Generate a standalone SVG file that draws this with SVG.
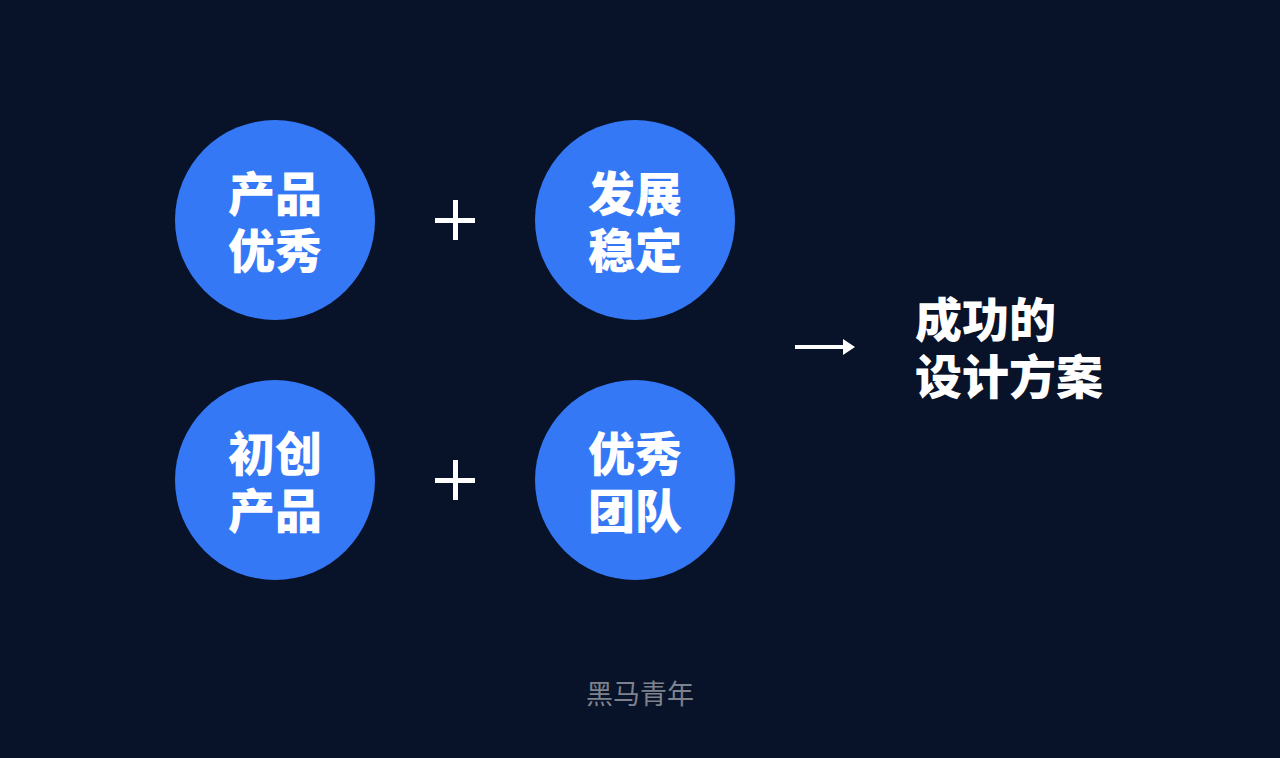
<svg xmlns="http://www.w3.org/2000/svg" width="1280" height="758" viewBox="0 0 1280 758">
<defs>
<style>
.c{fill:#3478f6}
.t{font-family:"Noto Sans CJK SC","Noto Sans",sans-serif;font-weight:900;font-size:47px;fill:#ffffff;text-anchor:middle}
.r{font-family:"Noto Sans CJK SC","Noto Sans",sans-serif;font-weight:900;font-size:47px;fill:#ffffff}
.f{font-family:"Noto Sans CJK SC","Noto Sans",sans-serif;font-size:27px;fill:#7d828c;text-anchor:middle}
.p{fill:#ffffff}
</style>
<marker id="ah" markerWidth="4" markerHeight="4" refX="1" refY="2" orient="auto" markerUnits="strokeWidth">
<path d="M0,0 L3,2 L0,4 Z" fill="#ffffff"/>
</marker>
</defs>
<rect width="1280" height="758" fill="#081228"/>
<g id="n1"><circle class="c" cx="275" cy="220" r="100"/><text class="t"><tspan x="275" y="211">产品</tspan><tspan x="275" y="268">优秀</tspan></text></g>
<g id="n2"><circle class="c" cx="635" cy="220" r="100"/><text class="t"><tspan x="635" y="211">发展</tspan><tspan x="635" y="268">稳定</tspan></text></g>
<g id="n3"><circle class="c" cx="275" cy="480" r="100"/><text class="t"><tspan x="275" y="471">初创</tspan><tspan x="275" y="528">产品</tspan></text></g>
<g id="n4"><circle class="c" cx="635" cy="480" r="100"/><text class="t"><tspan x="635" y="471">优秀</tspan><tspan x="635" y="528">团队</tspan></text></g>
<g id="plus1"><rect class="p" x="435" y="218" width="40" height="5"/><rect class="p" x="453" y="200" width="5" height="40"/></g>
<g id="plus2"><rect class="p" x="435" y="478" width="40" height="5"/><rect class="p" x="453" y="460" width="5" height="40"/></g>
<g id="connectors"><line x1="795" y1="347" x2="847" y2="347" stroke="#ffffff" stroke-width="4" marker-end="url(#ah)"/></g>
<g id="result"><text class="r"><tspan x="915" y="337">成功的</tspan><tspan x="915" y="394">设计方案</tspan></text></g>
<g id="footer"><text class="f" x="640" y="704">黑马青年</text></g>
</svg>
